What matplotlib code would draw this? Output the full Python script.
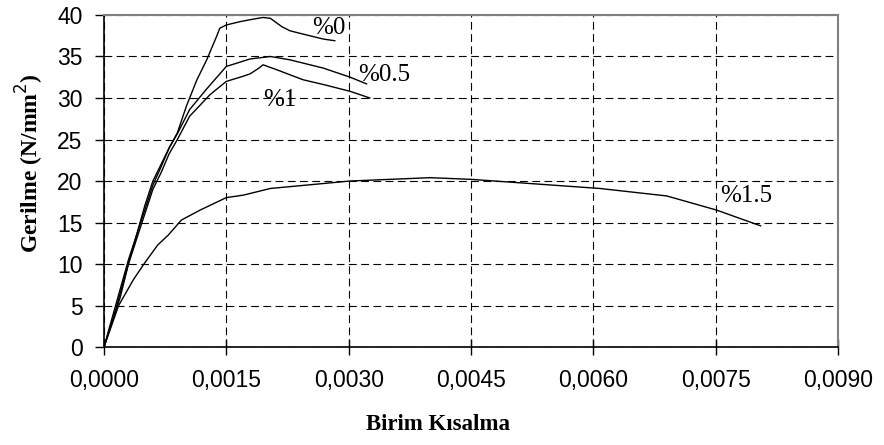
import numpy as np
import matplotlib
matplotlib.use("Agg")
import matplotlib.pyplot as plt
from matplotlib.ticker import FuncFormatter, MultipleLocator

# strain / stress
strain_0 = [0, 0.0001, 0.0002, 0.0003, 0.0004, 0.0005, 0.0006, 0.0007, 0.0008, 0.0009,
            0.00101, 0.00114, 0.00126, 0.00138, 0.00142, 0.0015, 0.00167, 0.00183,
            0.00195, 0.00204, 0.00218, 0.00228, 0.0024, 0.00269, 0.00283]
stress_0 = [0, 3, 6, 10, 13.5, 17, 20, 22, 24, 25.8,
            29, 32.2, 34.6, 37.4, 38.4, 38.8, 39.2, 39.5,
            39.7, 39.6, 38.6, 38.1, 37.8, 37.1, 36.9]

strain_05 = [0, 0.0001, 0.0002, 0.0003, 0.0004, 0.0005, 0.0006, 0.0007, 0.0008, 0.0009,
             0.00105, 0.00126, 0.0015, 0.00179, 0.00204, 0.00228, 0.00269, 0.00302, 0.00322]
stress_05 = [0, 3.5, 7, 10.5, 13.5, 16.5, 19.5, 21.7, 24, 25.7,
             28.6, 31.1, 33.8, 34.7, 35.0, 34.6, 33.6, 32.5, 31.7]

strain_1 = [0, 0.0001, 0.0002, 0.0003, 0.0004, 0.0005, 0.0006, 0.0007, 0.0008, 0.0009,
            0.00105, 0.0013, 0.0015, 0.0017, 0.00179, 0.0019, 0.00195, 0.00212, 0.00244,
            0.0027, 0.00302, 0.00326]
stress_1 = [0, 3, 6.5, 10, 13, 16, 19, 21, 23.3, 25,
            27.8, 30.4, 32.0, 32.6, 32.9, 33.6, 34.0, 33.4, 32.2,
            31.6, 30.8, 30.0]

strain_15 = [0, 0.00018, 0.00036, 0.00049, 0.00066, 0.00079, 0.00095, 0.00118, 0.0015, 0.00171,
             0.00204, 0.00302, 0.0040, 0.0045, 0.00608, 0.0069, 0.00751, 0.00805]
stress_15 = [0, 5.0, 8.1, 10.0, 12.3, 13.5, 15.3, 16.5, 18.0, 18.3,
             19.1, 20.0, 20.4, 20.2, 19.1, 18.2, 16.5, 14.6]

labels = ["%0", "%0.5", "%1", "%1.5"]
label_pos = [(0.00276, 38.4), (0.00343, 32.8), (0.00215, 29.8), (0.00788, 18.2)]

serif = "Liberation Serif"
sans = "Liberation Sans"

fig = plt.figure(figsize=(8.84, 4.45), dpi=100)
ax = fig.add_axes([0.1176, 0.2202, 0.8304, 0.7461])

for x, y in [(strain_0, stress_0), (strain_05, stress_05),
             (strain_1, stress_1), (strain_15, stress_15)]:
    ax.plot(x, y, color="black", lw=1.0)

for txt, (x, y) in zip(labels, label_pos):
    ax.text(x, y, txt, fontsize=18, family=serif, ha="center", va="center")

ax.set_xlim(0, 0.009)
ax.set_ylim(0, 40)
ax.xaxis.set_major_locator(MultipleLocator(0.0015))
ax.yaxis.set_major_locator(MultipleLocator(5))
ax.xaxis.set_major_formatter(FuncFormatter(lambda v, p: f"{v:.4f}".replace(".", ",")))

ax.grid(True, color="black", lw=0.8, linestyle=(0, (7, 4)))
ax.set_axisbelow(True)

for s in ["top", "right"]:
    ax.spines[s].set_color("#808080")
    ax.spines[s].set_linewidth(1.5)
for s in ["left", "bottom"]:
    ax.spines[s].set_color("black")
    ax.spines[s].set_linewidth(1.2)

ax.tick_params(axis="x", direction="inout", length=12, width=1, pad=10, labelsize=16.5)
ax.tick_params(axis="y", direction="out", length=6.5, width=1, pad=9, labelsize=16.5)
for lab in ax.get_xticklabels() + ax.get_yticklabels():
    lab.set_family(sans)

fig.text(437.5 / 884, 1 - 424 / 445, "Birim Kısalma", fontsize=16.5, family=serif,
         fontweight="bold", ha="center", va="center")
fig.text(30 / 884, 1 - 163 / 445, "Gerilme (N/mm$^{2}$)", fontsize=17, family=serif,
         fontweight="bold", ha="center", va="center", rotation=90)

fig.savefig("out.png", dpi=100)
